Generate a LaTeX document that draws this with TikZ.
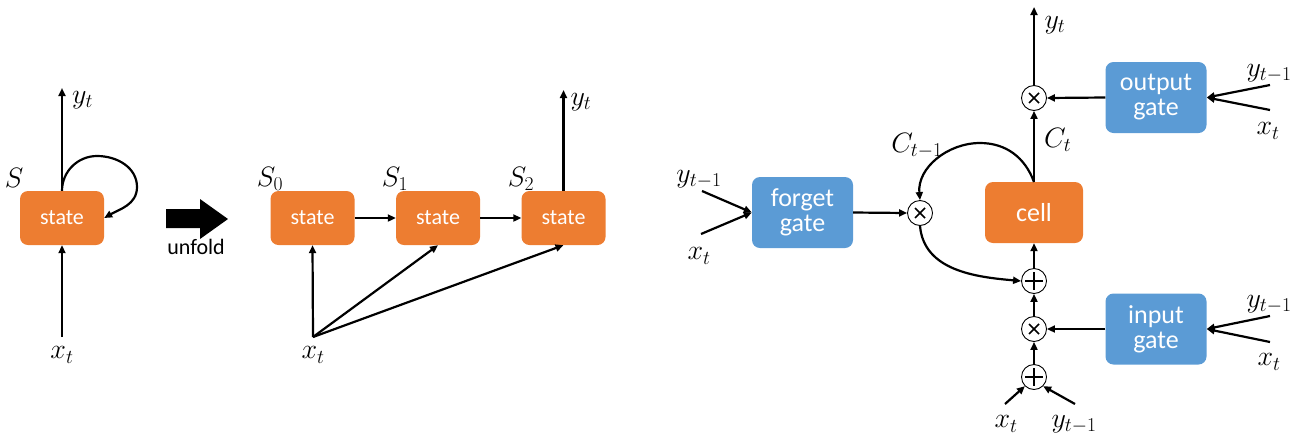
\RequirePackage{fix-cm}
\documentclass[tikz,border=0pt]{standalone}
\usepackage{fontspec}
\setmainfont{Carlito}
\usetikzlibrary{arrows.meta}
\definecolor{boxorange}{RGB}{237,125,49}
\definecolor{boxblue}{RGB}{91,155,213}
\begin{document}
\begin{tikzpicture}[x=1pt,y=-1pt,
 box/.style={rectangle, rounded corners=8pt, text=white, inner sep=0pt, align=center},
 statebox/.style={box, fill=boxorange, minimum width=84pt, minimum height=54pt, font=\fontsize{22}{24}\selectfont},
 gatebox/.style={box, fill=boxblue, minimum width=101pt, minimum height=71pt, font=\fontsize{26}{28}\selectfont},
 cellbox/.style={box, fill=boxorange, minimum width=98pt, minimum height=61pt, font=\fontsize{26}{28}\selectfont},
 op/.style={circle, draw, line width=0.9pt, minimum size=25pt, inner sep=0pt, fill=white},
 timesop/.style={op, path picture={
   \draw[line width=1.6pt] ([shift={(-5,-5)}]path picture bounding box.center) -- ([shift={(5,5)}]path picture bounding box.center);
   \draw[line width=1.6pt] ([shift={(-5,5)}]path picture bounding box.center) -- ([shift={(5,-5)}]path picture bounding box.center);}},
 plusop/.style={op, path picture={
   \draw[line width=1.6pt] ([shift={(-9,0)}]path picture bounding box.center) -- ([shift={(9,0)}]path picture bounding box.center);
   \draw[line width=1.6pt] ([shift={(0,-9)}]path picture bounding box.center) -- ([shift={(0,9)}]path picture bounding box.center);}},
 lbl/.style={font=\fontsize{28}{31}\selectfont, inner sep=0pt},
 arr/.style={line width=2.2pt, -{Triangle[length=8pt,width=7pt]}},
 ln/.style={line width=2.2pt}]
\useasboundingbox (0,0) rectangle (1305,440);

% ---------- left: folded RNN ----------
\node[statebox] (s) at (62,218) {state};
\node[lbl] (Sl) at (14,178) {$S$};
\coordinate (syt) at (62,88);
\draw[arr] (s.north) -- (syt);
\node[lbl, anchor=west] (ylab0) at (72,100) {$y_t$};
\coordinate (sxt) at (62,337);
\draw[arr] (sxt) -- (s.south);
\node[lbl] (xlab0) at (62,355) {$x_t$};
\draw[arr] (s.north) to[out=90,in=180] (97,156) to[out=0,in=90] (137,187) to[out=-90,in=30] (s.east);

% unfold arrow
\fill (166,209) -- (200,209) -- (200,199) -- (228,219) -- (200,239) -- (200,228) -- (166,228) -- cycle;
\node[font=\fontsize{22}{24}\selectfont, inner sep=0pt] (unfold) at (196,247) {unfold};

% ---------- middle: unfolded RNN ----------
\node[statebox] (s0) at (312.5,218) {state};
\node[statebox] (s1) at (438,218) {state};
\node[statebox] (s2) at (563.5,218) {state};
\node[lbl] (S0l) at (270,179) {$S_0$};
\node[lbl] (S1l) at (395,179) {$S_1$};
\node[lbl] (S2l) at (521,179) {$S_2$};
\draw[arr] (s0.east) -- (s1.west);
\draw[arr] (s1.east) -- (s2.west);
\coordinate (myt) at (563.5,90);
\draw[arr] (s2.north) -- (myt);
\node[lbl] (ylab1) at (581,102) {$y_t$};
\coordinate (mxt) at (313,337);
\draw[arr] (mxt) -- (s0.south);
\draw[arr] (mxt) -- (s1.south);
\draw[arr] (mxt) -- (s2.south);
\node[lbl] (xlab1) at (313,355) {$x_t$};

% ---------- right: LSTM ----------
\node[gatebox] (fg) at (802.5,212.5) {forget\\[-3pt]gate};
\node[gatebox] (og) at (1156,97.5) {output\\[-3pt]gate};
\node[gatebox] (ig) at (1156,329) {input\\[-3pt]gate};
\node[cellbox] (cell) at (1034,212.5) {cell};
\node[timesop] (m1) at (920,213) {};
\node[timesop] (m2) at (1034,98) {};
\node[plusop] (p1) at (1034,281) {};
\node[timesop] (m3) at (1034,329) {};
\node[plusop] (p2) at (1034,377) {};

% forget gate inputs
\coordinate (fa) at (702,191);
\coordinate (fb) at (701,234);
\draw[arr] (fa) -- (fg.west);
\draw[arr] (fb) -- (fg.west);
\node[lbl] (fyl) at (699,179) {$y_{t-1}$};
\node[lbl] (fxl) at (699,256) {$x_t$};
\draw[arr] (fg.east) -- (m1.west);

% output path
\draw[arr] (cell.north) -- (m2.south);
\node[lbl, anchor=west] (ctl) at (1044,140) {$C_t$};
\coordinate (oyt) at (1034,7);
\draw[arr] (m2.north) -- (oyt);
\node[lbl] (oytl) at (1055,25) {$y_t$};
\draw[arr] (og.west) -- (m2.east);
\coordinate (oa) at (1270,85);
\coordinate (ob) at (1270,110);
\draw[arr] (oa) -- (og.east);
\draw[arr] (ob) -- (og.east);
\node[lbl] (oyl) at (1269,73) {$y_{t-1}$};
\node[lbl] (oxl) at (1268,131) {$x_t$};

% memory loop
\coordinate (cj) at (1034,182);
\draw[arr] (cj) to[out=110,in=0] (980,143) to[out=180,in=95] (m1.north);
\node[lbl] (cpl) at (917,146) {$C_{t-1}$};
\draw[arr] (m1.south) to[out=-85,in=175] (p1.west);

% input path
\draw[arr] (p1.north) -- (cell.south);
\draw[arr] (m3.north) -- (p1.south);
\draw[arr] (p2.north) -- (m3.south);
\draw[arr] (ig.west) -- (m3.east);
\coordinate (ia) at (1270,316);
\coordinate (ib) at (1270,342);
\draw[arr] (ia) -- (ig.east);
\draw[arr] (ib) -- (ig.east);
\node[lbl] (iyl) at (1269,304) {$y_{t-1}$};
\node[lbl] (ixl) at (1269,362) {$x_t$};
\coordinate (pa) at (1005,404);
\coordinate (pb) at (1075,404);
\draw[arr] (pa) -- (p2.south west);
\draw[arr] (pb) -- (p2.south east);
\node[lbl] (pxl) at (1006,424) {$x_t$};
\node[lbl] (pyl) at (1074,424) {$y_{t-1}$};
\end{tikzpicture}
\end{document}
